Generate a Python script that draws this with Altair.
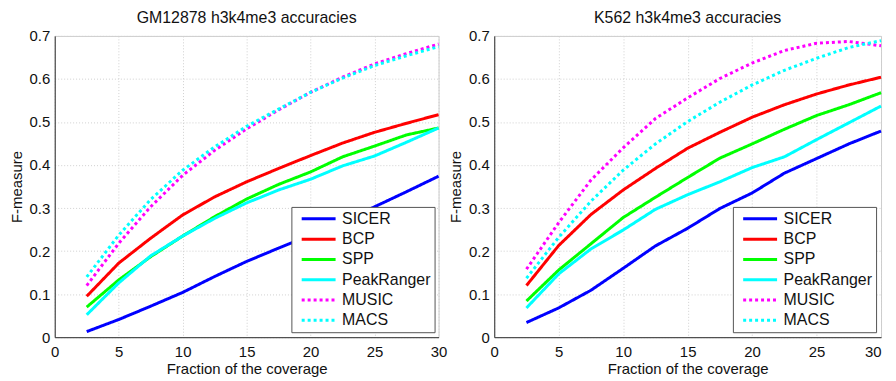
import altair as alt
import pandas as pd

x_vals = [2.5, 5, 7.5, 10, 12.5, 15, 17.5, 20, 22.5, 25, 27.5, 30]
methods = ["SICER", "BCP", "SPP", "PeakRanger", "MUSIC", "MACS"]
colors = ["#0000ff", "#ff0000", "#00ff00", "#00ffff", "#ff00ff", "#00ffff"]
dashes = [[1, 0], [1, 0], [1, 0], [1, 0], [3, 3], [3, 3]]

# GM12878 panel
gm_sicer = [0.013, 0.041, 0.072, 0.104, 0.141, 0.176, 0.207, 0.237, 0.268, 0.303, 0.338, 0.374]
gm_bcp = [0.095, 0.172, 0.230, 0.284, 0.326, 0.361, 0.392, 0.422, 0.451, 0.476, 0.497, 0.517]
gm_spp = [0.070, 0.133, 0.187, 0.235, 0.280, 0.321, 0.355, 0.384, 0.419, 0.444, 0.470, 0.486]
gm_peakranger = [0.052, 0.126, 0.189, 0.235, 0.276, 0.312, 0.342, 0.367, 0.398, 0.421, 0.453, 0.486]
gm_music = [0.120, 0.218, 0.303, 0.376, 0.434, 0.484, 0.528, 0.569, 0.604, 0.635, 0.659, 0.681]
gm_macs = [0.140, 0.237, 0.320, 0.388, 0.442, 0.490, 0.530, 0.569, 0.602, 0.631, 0.654, 0.675]

# K562 panel
k_sicer = [0.034, 0.068, 0.109, 0.160, 0.212, 0.253, 0.299, 0.335, 0.381, 0.415, 0.449, 0.479]
k_bcp = [0.120, 0.213, 0.285, 0.342, 0.392, 0.439, 0.476, 0.511, 0.540, 0.565, 0.586, 0.604]
k_spp = [0.084, 0.156, 0.217, 0.278, 0.325, 0.371, 0.416, 0.449, 0.483, 0.515, 0.540, 0.568]
k_peakranger = [0.068, 0.147, 0.205, 0.249, 0.297, 0.331, 0.361, 0.394, 0.419, 0.459, 0.498, 0.537]
k_music = [0.158, 0.266, 0.365, 0.440, 0.508, 0.556, 0.601, 0.637, 0.666, 0.683, 0.687, 0.677]
k_macs = [0.137, 0.232, 0.316, 0.388, 0.449, 0.501, 0.546, 0.586, 0.620, 0.648, 0.673, 0.689]

gm_series = [gm_sicer, gm_bcp, gm_spp, gm_peakranger, gm_music, gm_macs]
k_series = [k_sicer, k_bcp, k_spp, k_peakranger, k_music, k_macs]


def to_df(series):
    rows = []
    for m, vals in zip(methods, series):
        for x, y in zip(x_vals, vals):
            rows.append({"method": m, "x": x, "y": y})
    return pd.DataFrame(rows)


def panel(title, series, lx, ly, w, h, flush_last=False):
    df = to_df(series)
    leg = alt.Legend(title=None, orient="none", legendX=lx, legendY=ly)
    xaxis_kw = dict(values=[0, 5, 10, 15, 20, 25, 30])
    if flush_last:
        xaxis_kw["labelAlign"] = alt.ExprRef(expr="datum.value == 30 ? 'right' : 'center'")
    return alt.Chart(df, title=title).mark_line(strokeWidth=3).encode(
        x=alt.X("x:Q", title="Fraction of the coverage",
                scale=alt.Scale(domain=[0, 30], nice=False),
                axis=alt.Axis(**xaxis_kw)),
        y=alt.Y("y:Q", title="F-measure",
                scale=alt.Scale(domain=[0, 0.7], nice=False),
                axis=alt.Axis(values=[0, 0.1, 0.2, 0.3, 0.4, 0.5, 0.6, 0.7], format="~g")),
        color=alt.Color("method:N", scale=alt.Scale(domain=methods, range=colors), legend=leg),
        strokeDash=alt.StrokeDash("method:N", scale=alt.Scale(domain=methods, range=dashes), legend=leg),
    ).properties(width=w, height=h)


left = panel("GM12878 h3k4me3 accuracies", gm_series, 238, 172, 386, 303)
right = panel("K562 h3k4me3 accuracies", k_series, 240, 172, 389, 303, flush_last=True)

chart = alt.hconcat(left, right, spacing=0).resolve_legend(
    color="independent", strokeDash="independent"
).properties(
    padding={"left": 0, "top": 0, "right": 0, "bottom": 0}
).configure(
    font="Liberation Sans"
).configure_view(
    stroke="#cccccc", strokeWidth=1
).configure_axis(
    labelFontSize=15, titleFontSize=15, labelColor="#111", titleColor="#111",
    titleFontWeight="normal", domainColor="#333", domainWidth=1,
    ticks=False, labelPadding=5, titlePadding=6,
    grid=True, gridColor="#d0d0d0", gridDash=[1, 2], labelFlush=False,
).configure_axisY(titlePadding=5).configure_axisX(labelPadding=7, titlePadding=3).configure_title(
    fontSize=16, fontWeight="normal", color="#111", offset=3
).configure_legend(
    labelFontSize=16, labelColor="#111", symbolType="M-0.3,0H5.9", symbolSize=121,
    symbolStrokeWidth=3, strokeColor="#555", fillColor="white", padding=4,
    rowPadding=4.4, labelOffset=31, cornerRadius=0,
)

chart.save("out.html", embed_options={"renderer": "svg", "actions": False})
